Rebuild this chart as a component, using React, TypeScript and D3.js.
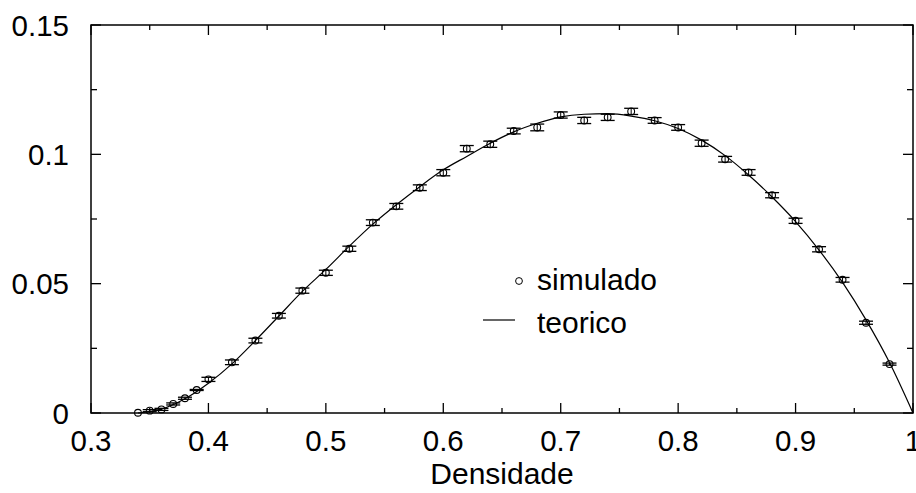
import React, { useEffect, useRef } from "react";
import * as d3 from "d3";

// simulated points (densidade, valor, erro)
const simX = [
  0.34, 0.35, 0.36, 0.37, 0.38, 0.39, 0.4, 0.42, 0.44, 0.46, 0.48, 0.5, 0.52,
  0.54, 0.56, 0.58, 0.6, 0.62, 0.64, 0.66, 0.68, 0.7, 0.72, 0.74, 0.76, 0.78,
  0.8, 0.82, 0.84, 0.86, 0.88, 0.9, 0.92, 0.94, 0.96, 0.98,
];
const simY = [
  0.0001, 0.0009, 0.0014, 0.0035, 0.0057, 0.0089, 0.013, 0.0196, 0.028,
  0.0376, 0.0473, 0.0542, 0.0635, 0.0736, 0.0799, 0.0871, 0.0929, 0.1022,
  0.1039, 0.109, 0.1104, 0.1152, 0.1131, 0.1143, 0.1166, 0.1131, 0.1104,
  0.1043, 0.0981, 0.093, 0.0842, 0.0743, 0.0633, 0.0515, 0.0349, 0.0189,
];
const simErr = [
  0, 0.0004, 0.0004, 0.0004, 0.0004, 0.0002, 0.0008, 0.0009, 0.0009, 0.0009,
  0.001, 0.001, 0.001, 0.0011, 0.0011, 0.0011, 0.0012, 0.0012, 0.0012, 0.0011,
  0.0013, 0.0012, 0.0012, 0.0012, 0.0012, 0.0011, 0.0011, 0.0012, 0.0011,
  0.0011, 0.001, 0.001, 0.001, 0.0009, 0.0006, 0.0004,
];

// theoretical curve
const teoX = [
  0.34, 0.36, 0.38, 0.4, 0.42, 0.44, 0.46, 0.48, 0.5, 0.52, 0.54, 0.56, 0.58,
  0.6, 0.62, 0.64, 0.66, 0.68, 0.7, 0.72, 0.74, 0.76, 0.78, 0.8, 0.82, 0.84,
  0.86, 0.88, 0.9, 0.92, 0.94, 0.96, 0.98, 1.0,
];
const teoY = [
  0, 0.0015, 0.0055, 0.0115, 0.019, 0.028, 0.0375, 0.047, 0.0555, 0.0645,
  0.073, 0.0805, 0.0875, 0.094, 0.0992, 0.1043, 0.1087, 0.112, 0.1145, 0.1155,
  0.1157, 0.1148, 0.113, 0.11, 0.1055, 0.0995, 0.092, 0.0835, 0.074, 0.063,
  0.0505, 0.036, 0.0195, 0,
];

const xTicks = [0.3, 0.4, 0.5, 0.6, 0.7, 0.8, 0.9, 1];
const xMinor = [0.35, 0.45, 0.55, 0.65, 0.75, 0.85, 0.95];
const yTicks = [0, 0.05, 0.1, 0.15];
const yMinor = [0.025, 0.075, 0.125];
const xLabels = ["0.3", "0.4", "0.5", "0.6", "0.7", "0.8", "0.9", "1"];
const yLabels = ["0", "0.05", "0.1", "0.15"];

const Chart = ({ width = 916, height = 493 }) => {
  const ref = useRef(null);

  useEffect(() => {
    drawPlot();
  }, []);

  const drawPlot = () => {
    d3.select(ref.current).selectAll("svg").remove();
    const svg = d3
      .select(ref.current)
      .append("svg")
      .attr("width", width)
      .attr("height", height)
      .style("position", "absolute")
      .style("left", 0)
      .style("top", 0)
      .style("font-family", "'Liberation Sans', Arial, sans-serif");

    const margin = { top: 25, right: 3, bottom: 80, left: 91 };
    const innerWidth = width - margin.left - margin.right;
    const innerHeight = height - margin.top - margin.bottom;

    const xScale = d3.scaleLinear().domain([0.3, 1]).range([0, innerWidth]);
    const yScale = d3.scaleLinear().domain([0, 0.15]).range([innerHeight, 0]);

    const g = svg
      .append("g")
      .attr("transform", `translate(${margin.left},${margin.top})`);

    // frame
    g.append("rect")
      .attr("width", innerWidth)
      .attr("height", innerHeight)
      .attr("fill", "none")
      .attr("stroke", "#000")
      .attr("stroke-width", 1.5);

    // ticks on all four sides, pointing inward
    const tick = (sel) => sel.attr("stroke", "#000").attr("stroke-width", 1.3);
    const addX = (vals, len) => {
      vals.forEach((v) => {
        const x = xScale(v);
        g.append("line").attr("x1", x).attr("x2", x).attr("y1", innerHeight).attr("y2", innerHeight - len).call(tick);
        g.append("line").attr("x1", x).attr("x2", x).attr("y1", 0).attr("y2", len).call(tick);
      });
    };
    const addY = (vals, len) => {
      vals.forEach((v) => {
        const y = yScale(v);
        g.append("line").attr("x1", 0).attr("x2", len).attr("y1", y).attr("y2", y).call(tick);
        g.append("line").attr("x1", innerWidth).attr("x2", innerWidth - len).attr("y1", y).attr("y2", y).call(tick);
      });
    };
    addX(xTicks, 10);
    addX(xMinor, 5);
    addY(yTicks, 10);
    addY(yMinor, 6);

    // tick labels
    g.selectAll(".xl")
      .data(xTicks)
      .enter()
      .append("text")
      .attr("x", (d) => xScale(d))
      .attr("y", innerHeight + 38)
      .attr("text-anchor", "middle")
      .attr("font-size", 29.5)
      .text((d, i) => xLabels[i]);

    g.selectAll(".yl")
      .data(yTicks)
      .enter()
      .append("text")
      .attr("x", -22)
      .attr("y", (d) => yScale(d) + 10.5)
      .attr("text-anchor", "end")
      .attr("font-size", 29.5)
      .text((d, i) => yLabels[i]);

    g.append("text")
      .attr("x", innerWidth / 2)
      .attr("y", innerHeight + 71)
      .attr("text-anchor", "middle")
      .attr("font-size", 30)
      .text("Densidade");

    // theoretical curve
    const line = d3
      .line()
      .x((d) => xScale(d[0]))
      .y((d) => yScale(d[1]))
      .curve(d3.curveMonotoneX);
    g.append("path")
      .datum(teoX.map((x, i) => [x, teoY[i]]))
      .attr("d", line)
      .attr("fill", "none")
      .attr("stroke", "#000")
      .attr("stroke-width", 1.2);

    // simulated points with error caps
    const pts = simX.map((x, i) => ({ x, y: simY[i], e: simErr[i] }));
    const cap = 7;
    pts.forEach((d) => {
      const cx = xScale(d.x);
      if (d.e > 0) {
        [d.y - d.e, d.y + d.e].forEach((v) => {
          g.append("line")
            .attr("x1", cx - cap)
            .attr("x2", cx + cap)
            .attr("y1", yScale(v))
            .attr("y2", yScale(v))
            .attr("stroke", "#000")
            .attr("stroke-width", 1.3);
        });
        g.append("line")
          .attr("x1", cx)
          .attr("x2", cx)
          .attr("y1", yScale(d.y - d.e))
          .attr("y2", yScale(d.y + d.e))
          .attr("stroke", "#000")
          .attr("stroke-width", 1);
      }
    });
    g.selectAll(".point")
      .data(pts)
      .enter()
      .append("circle")
      .attr("cx", (d) => xScale(d.x))
      .attr("cy", (d) => yScale(d.y))
      .attr("r", 3.4)
      .attr("fill", "none")
      .attr("stroke", "#000")
      .attr("stroke-width", 1.1);

    // legend
    const leg = svg.append("g");
    leg.append("circle").attr("cx", 519).attr("cy", 281).attr("r", 3.4).attr("fill", "none").attr("stroke", "#000");
    leg.append("text").attr("x", 537).attr("y", 290).attr("font-size", 30).text("simulado");
    leg.append("line").attr("x1", 483).attr("x2", 515).attr("y1", 320).attr("y2", 320).attr("stroke", "#000").attr("stroke-width", 1.2);
    leg.append("text").attr("x", 537).attr("y", 333).attr("font-size", 30).text("teorico");
  };

  return <div ref={ref}></div>;
};

export default function App() {
  return <Chart />;
}
